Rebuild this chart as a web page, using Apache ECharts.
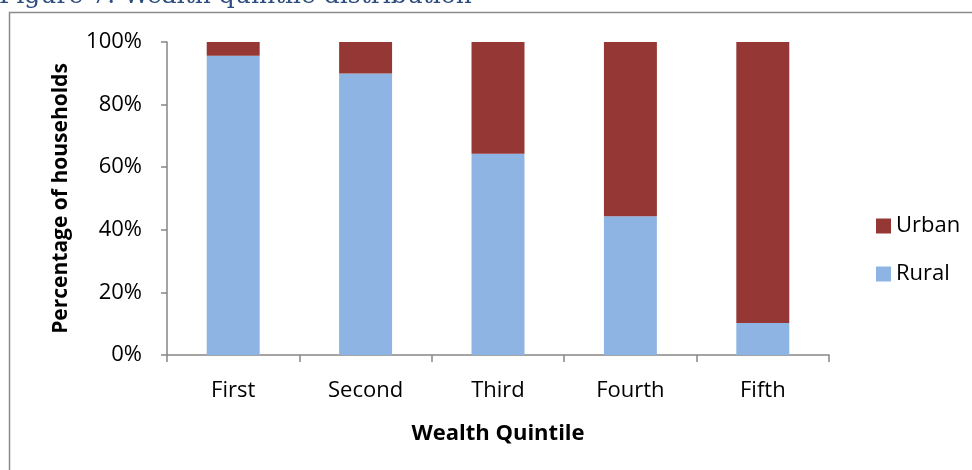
<!DOCTYPE html>
<html>
<head>
<meta charset="utf-8">
<script src="https://cdn.jsdelivr.net/npm/echarts@6/dist/echarts.min.js"></script>
<style>
  html, body { margin: 0; padding: 0; background: #ffffff; }
  #chart { width: 972px; height: 470px; }
</style>
</head>
<body>
<div id="chart"></div>
<script>
// Wealth quintile distribution of households by area of residence
const quintiles = ['First', 'Second', 'Third', 'Fourth', 'Fifth'];
const ruralShare = [95.6, 89.9, 64.3, 44.3, 10.2];
const urbanShare = [4.4, 10.1, 35.7, 55.7, 89.8];
const yTicks = [0, 20, 40, 60, 80, 100];

const labelFont = '"Open Sans", "Noto Sans", sans-serif';
const axisGrey = '#868686';

const chart = echarts.init(document.getElementById('chart'), null, { renderer: 'canvas' });

chart.setOption({
  backgroundColor: '#ffffff',
  animation: false,
  graphic: [
    {
      type: 'text',
      left: -1,
      top: -16,
      style: {
        text: 'Figure 7: Wealth quintile distribution',
        font: '25px "DejaVu Serif", "Liberation Serif", serif',
        fill: '#2c4d7e'
      }
    },
    {
      type: 'rect',
      shape: { x: 9.5, y: 12.5, width: 1000, height: 1000 },
      style: { fill: 'none', stroke: '#8a8a8a', lineWidth: 1.5 },
      silent: true
    }
  ],
  legend: {
    data: ['Urban', 'Rural'],
    orient: 'vertical',
    left: 871,
    top: 209,
    icon: 'rect',
    itemWidth: 15,
    itemHeight: 15,
    itemGap: 24,
    textStyle: { fontFamily: labelFont, fontSize: 22, color: '#000', lineHeight: 24 }
  },
  grid: { left: 167, right: 143, top: 42, bottom: 115 },
  xAxis: {
    type: 'category',
    data: quintiles,
    name: 'Wealth Quintile',
    nameLocation: 'middle',
    nameGap: 68,
    nameTextStyle: { fontFamily: labelFont, fontSize: 22, fontWeight: 'bold', color: '#000' },
    axisLine: { lineStyle: { color: axisGrey, width: 1.5 } },
    axisTick: { show: true, alignWithLabel: false, length: 7, lineStyle: { color: axisGrey, width: 1.5 } },
    axisLabel: { fontFamily: labelFont, fontSize: 22, color: '#000', margin: 25 }
  },
  yAxis: {
    type: 'value',
    min: yTicks[0],
    max: yTicks[yTicks.length - 1],
    interval: 20,
    name: 'Percentage of households',
    nameLocation: 'middle',
    nameGap: 95,
    nameRotate: 90,
    nameTextStyle: { fontFamily: labelFont, fontSize: 21, fontWeight: 'bold', color: '#000' },
    axisLine: { show: true, lineStyle: { color: axisGrey, width: 1.5 } },
    axisTick: { show: true, length: 6, lineStyle: { color: axisGrey, width: 1.5 } },
    splitLine: { show: false },
    axisLabel: { fontFamily: labelFont, fontSize: 22, color: '#000', margin: 25, formatter: '{value}%' }
  },
  series: [
    {
      name: 'Rural',
      type: 'bar',
      stack: 'share',
      data: ruralShare,
      barCategoryGap: '60%',
      itemStyle: { color: '#8eb4e3' }
    },
    {
      name: 'Urban',
      type: 'bar',
      stack: 'share',
      data: urbanShare,
      barCategoryGap: '60%',
      itemStyle: { color: '#953735' }
    }
  ]
});
</script>
</body>
</html>
